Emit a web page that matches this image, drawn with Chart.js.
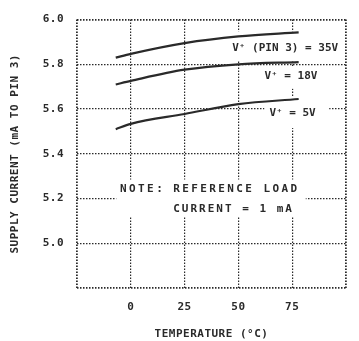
<!DOCTYPE html>
<html>
<head>
<meta charset="utf-8">
<script src="https://cdn.jsdelivr.net/npm/chart.js@4/dist/chart.umd.min.js"></script>
<style>
  html, body { margin: 0; padding: 0; background: #fff; }
  #wrap { width: 359px; height: 341px; }
</style>
</head>
<body>
<div id="wrap"><canvas id="c" width="359" height="341"></canvas></div>
<script>
// ---- data ----
const temps = [-7, 0, 25, 50, 78];                       // °C
const supply35V = [5.83, 5.847, 5.895, 5.925, 5.943];    // mA, V+ (PIN 3) = 35V
const supply18V = [5.71, 5.726, 5.776, 5.80, 5.81];      // mA, V+ = 18V
const supply5V  = [5.51, 5.534, 5.578, 5.622, 5.645];    // mA, V+ = 5V
const xTickLabels = ['0', '25', '50', '75'];
const yTickLabels = ['5.0', '5.2', '5.4', '5.6', '5.8', '6.0'];
const seriesNames = ['V⁺ (PIN 3) = 35V', 'V⁺ = 18V', 'V⁺ = 5V'];
const noteLines = ['NOTE:', 'REFERENCE LOAD', 'CURRENT = 1 mA'];

const INK = '#2a2a2a';
const FONT = '"DejaVu Sans Mono", monospace';

function pts(vals) { return temps.map((t, i) => ({ x: t, y: vals[i] })); }

const lineDs = (label, vals) => ({
  label, data: pts(vals),
  borderColor: INK, borderWidth: 2.2, pointRadius: 0,
  tension: 0.4, cubicInterpolationMode: 'monotone', fill: false
});

// annotation boxes/labels in data coordinates
const annotations = [
  { box: [45.7, 98.6, 5.947, 5.819], text: seriesNames[0], tx: 47.1, ty: 5.872 },
  { box: [59.4, 91.3, 5.788, 5.691], text: seriesNames[1], tx: 62.1, ty: 5.749 },
  { box: [62.1, 92.2, 5.656, 5.515], text: seriesNames[2], tx: 64.4, ty: 5.581 },
];
const noteBox = [-6.75, 81.3, 5.285, 5.118];

const annoPlugin = {
  id: 'anno',
  beforeDraw(chart) { chart.ctx.letterSpacing = '0.5px'; },
  beforeDatasetsDraw(chart) {
    const { ctx, scales: { x, y } } = chart;
    ctx.save();
    ctx.fillStyle = '#fff';
    const rect = (b) => {
      const x0 = x.getPixelForValue(b[0]), x1 = x.getPixelForValue(b[1]);
      const y0 = y.getPixelForValue(b[2]), y1 = y.getPixelForValue(b[3]);
      ctx.fillRect(x0, y0, x1 - x0, y1 - y0);
    };
    annotations.forEach(a => rect(a.box));
    rect(noteBox);
    ctx.fillStyle = INK;
    ctx.textBaseline = 'middle';
    ctx.textAlign = 'left';
    ctx.font = 'bold 11px ' + FONT;
    ctx.letterSpacing = '0px';
    annotations.forEach(a => {
      ctx.fillText(a.text, x.getPixelForValue(a.tx), y.getPixelForValue(a.ty));
    });
    // note
    ctx.letterSpacing = '2.4px';
    const ny1 = y.getPixelForValue(5.241), ny2 = y.getPixelForValue(5.153);
    ctx.fillText(noteLines[0], x.getPixelForValue(-5.0), ny1);
    ctx.fillText(noteLines[1], x.getPixelForValue(19.7), ny1);
    ctx.letterSpacing = '2.0px';
    ctx.fillText(noteLines[2], x.getPixelForValue(19.7), ny2);
    ctx.restore();
  }
};

new Chart(document.getElementById('c'), {
  type: 'line',
  data: {
    datasets: [
      lineDs(seriesNames[0], supply35V),
      lineDs(seriesNames[1], supply18V),
      lineDs(seriesNames[2], supply5V)
    ]
  },
  plugins: [annoPlugin],
  options: {
    responsive: false,
    animation: false,
    events: [],
    layout: { padding: { left: 0, right: 8, top: 16, bottom: 0 } },
    plugins: { legend: { display: false }, tooltip: { enabled: false } },
    scales: {
      x: {
        type: 'linear', min: -25, max: 100,
        afterFit(s) { s.height = 53; },
        ticks: {
          stepSize: 25, color: INK, padding: 13,
          font: { family: FONT, size: 11, weight: 'bold' },
          maxRotation: 0,
          callback: (v) => xTickLabels.includes(String(v)) ? String(v) : ''
        },
        grid: {
          drawTicks: false, color: INK,
          lineWidth: (c) => (c.tick && (c.tick.value === -25 || c.tick.value === 100)) ? 1.8 : 1.2,
        },
        border: { display: false, dash: [1.5, 1.5] },
        title: {
          display: true, text: 'TEMPERATURE (°C)', color: INK,
          font: { family: FONT, size: 11, weight: 'bold' },
          padding: { top: 0, bottom: 0 }
        }
      },
      y: {
        type: 'linear', min: 4.8, max: 6.0,
        afterFit(s) { s.width = 77; },
        ticks: {
          stepSize: 0.2, color: INK, padding: 13,
          font: { family: FONT, size: 11, weight: 'bold' },
          callback: (v) => { const s = Number(v).toFixed(1); return yTickLabels.includes(s) ? s : ''; }
        },
        grid: {
          drawTicks: false, color: INK,
          lineWidth: (c) => (c.tick && (Math.abs(c.tick.value - 4.8) < 1e-6 || Math.abs(c.tick.value - 6.0) < 1e-6)) ? 1.8 : 1.2,
        },
        border: { display: false, dash: [1.5, 1.5] },
        title: {
          display: true, text: 'SUPPLY CURRENT (mA TO PIN 3)', color: INK,
          font: { family: FONT, size: 11, weight: 'bold' },
          padding: { top: 9, bottom: 0 }
        }
      }
    }
  }
});
</script>
</body>
</html>
